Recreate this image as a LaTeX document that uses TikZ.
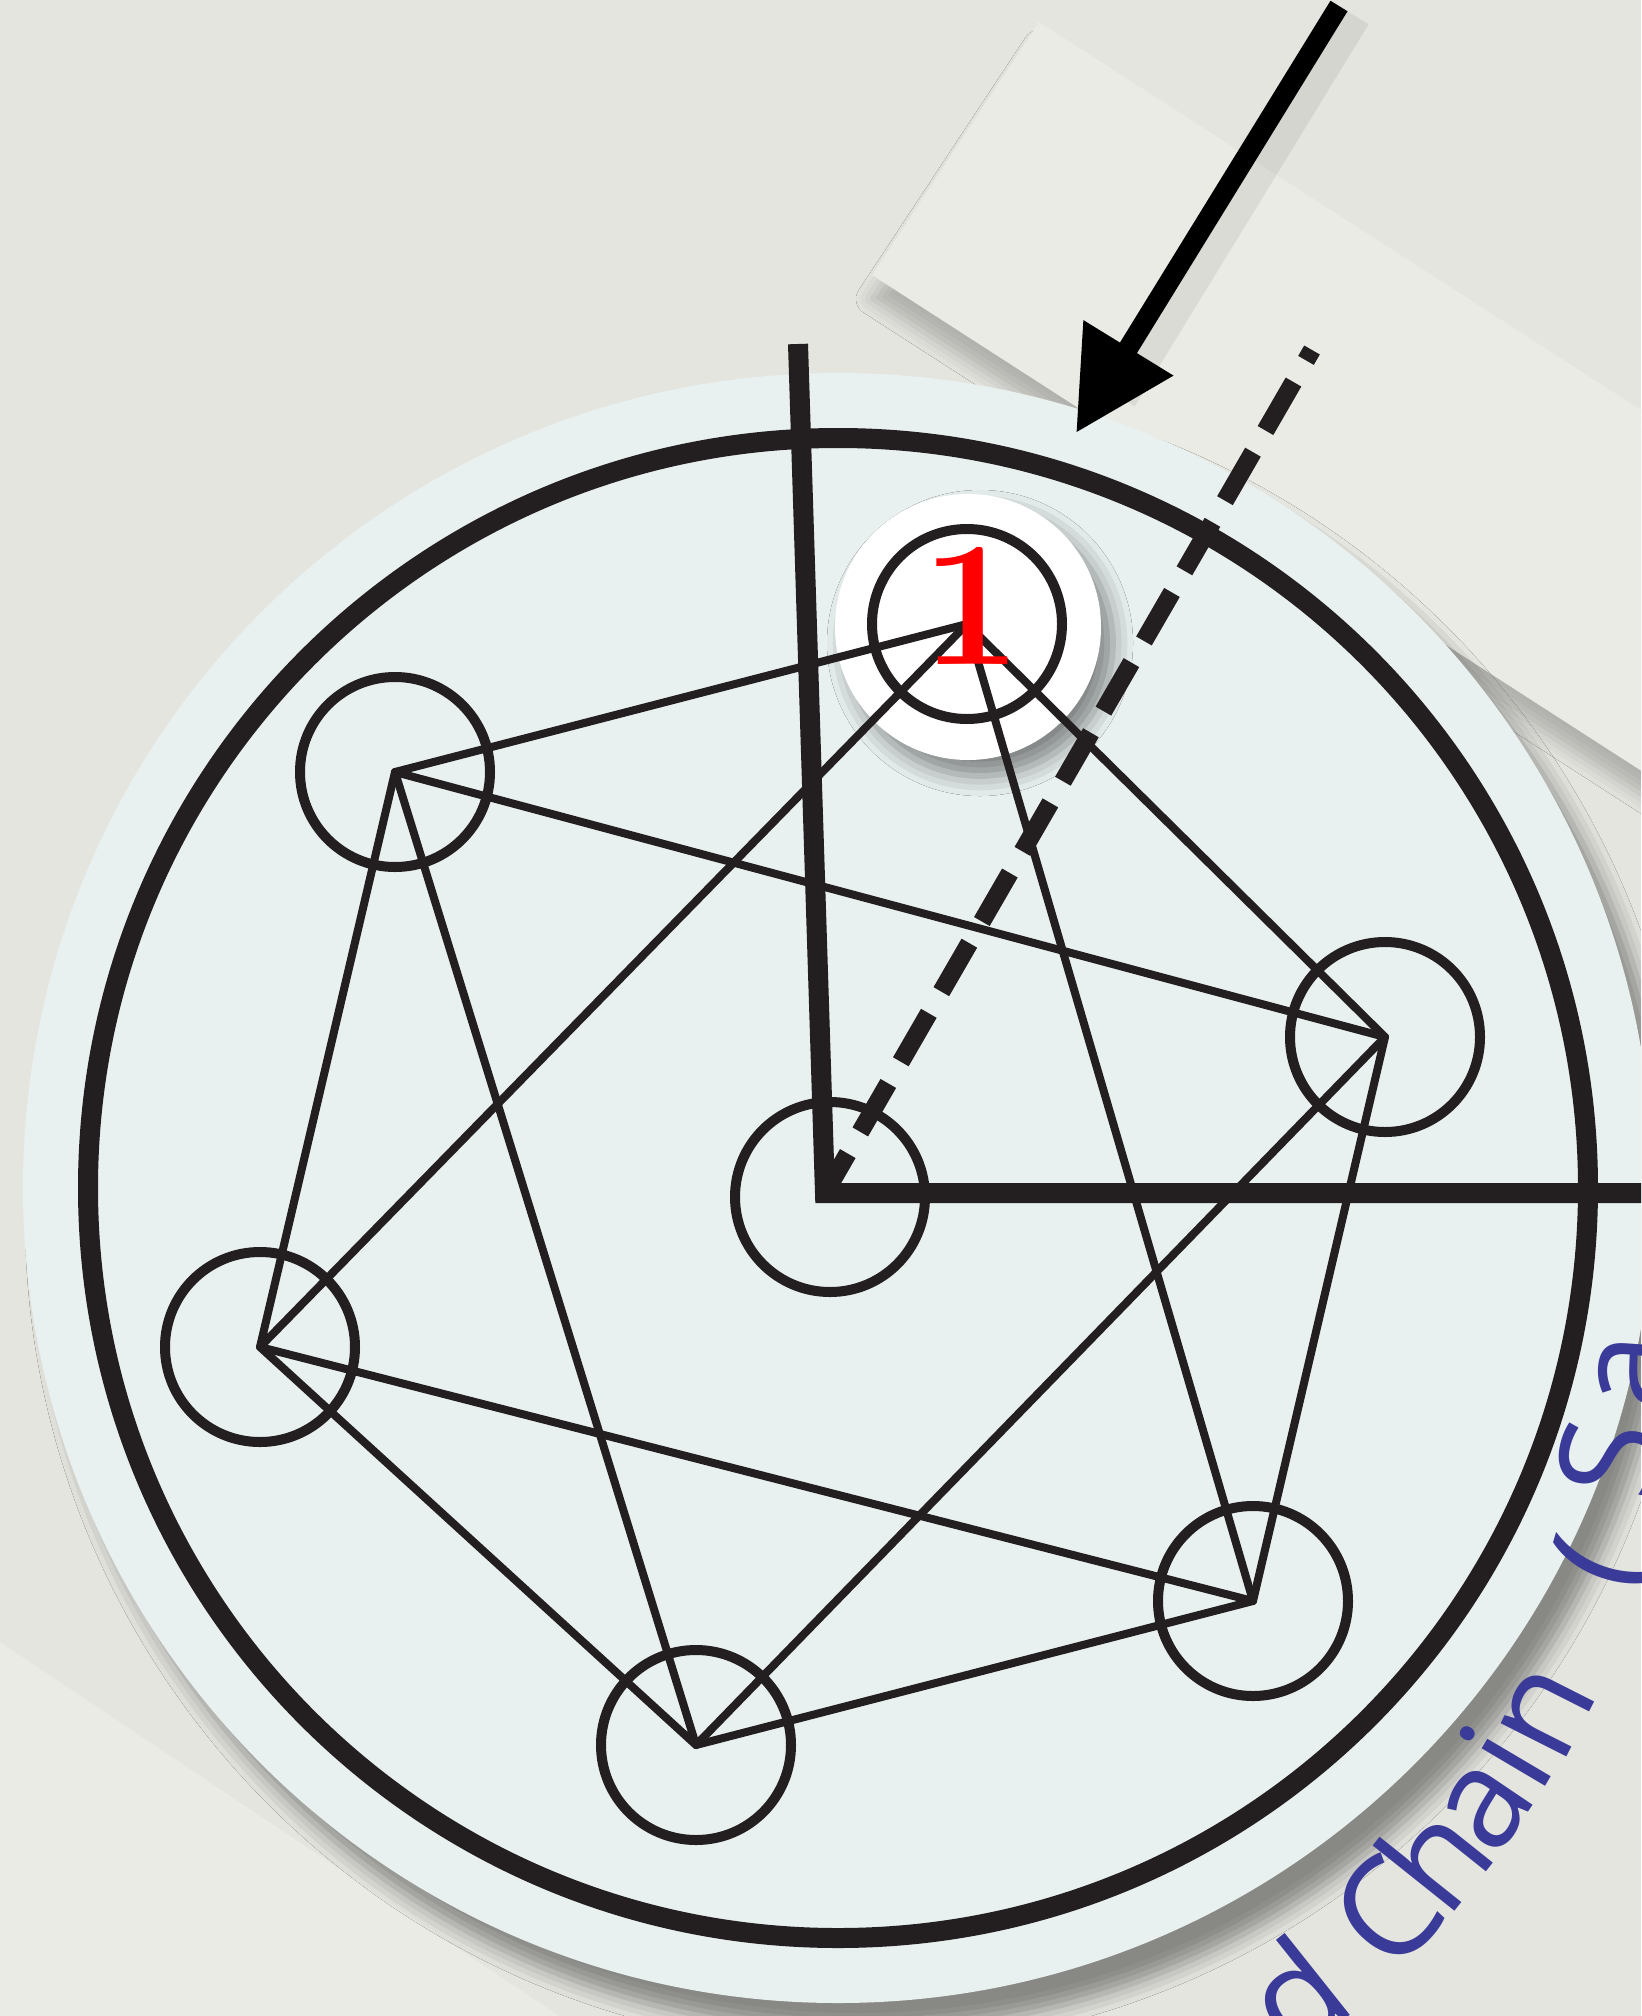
\documentclass[tikz,border=0pt]{standalone}
\usepackage{fontspec}
\newfontfamily\chainfont{Open Sans}
\usetikzlibrary{arrows.meta, positioning, calc, shadows.blur}
\definecolor{paper}{HTML}{E4E5DF}
\definecolor{card}{HTML}{EAEBE5}
\definecolor{disc}{HTML}{E9F0F0}
\definecolor{ink}{HTML}{231F20}
\definecolor{label}{HTML}{3A3A98}

\begin{document}
\begin{tikzpicture}[x=0.25mm, y=-0.25mm,
  site/.style={circle, draw=ink, line width=2.5mm, minimum size=47.5mm, inner sep=0pt},
  bond/.style={draw=ink, line width=2mm, line cap=round},
  axis/.style={draw=ink, line width=5mm},
  glyph/.style={text=label, font=\chainfont\fontsize{98}{98}\selectfont,
                anchor=base, inner sep=0pt}]
\useasboundingbox (0,0) rectangle (1641,2016);
\clip (0,0) rectangle (1641,2016);
\fill[paper] (0,0) rectangle (1641,2016);
% loose cards under the disc
\fill[card, blur shadow={shadow xshift=0mm, shadow yshift=-6mm,
      shadow blur radius=4mm, shadow opacity=22}]
  (1039,22) -- (872,275) -- (1713,817) -- (1880,564) -- cycle;
\fill[card] (0,1642) -- (700,2110) -- (0,2110) -- cycle;
% disc
\coordinate (o) at (838,1188);
\fill[disc, blur shadow={shadow xshift=5mm, shadow yshift=-7mm,
      shadow blur radius=4.5mm, shadow opacity=40}] (o) circle[radius=815];
\draw[ink, line width=5mm] (o) circle[radius=750];
% sites
\node[circle, fill=white, minimum size=66.5mm, inner sep=0pt,
      blur shadow={shadow xshift=3mm, shadow yshift=-4mm,
      shadow blur radius=5mm, shadow opacity=45}]
  (badge) at (968,627) {};
\foreach \p [count=\i] in {(967,624), (1385,1037), (1253,1601), (696,1745), (260,1347), (395,772)}
  \node[site] (v\i) at \p {};
\foreach \i in {1,...,6} {
  \pgfmathtruncatemacro\j{mod(\i,6)+1}
  \pgfmathtruncatemacro\k{mod(\i+1,6)+1}
  \draw[bond] (v\i.center) -- (v\j.center) (v\i.center) -- (v\k.center);
}
\node[site] (hub) at (830,1197) {};
% axes and the tilted one
\coordinate (ytop) at (798,344);
\coordinate (orig) at (825,1193);
\coordinate (xend) at (1700,1193);
\coordinate (dtop) at (1312,350);
\draw[axis] (ytop) -- (orig) -- (xend);
\draw[axis, line width=4.5mm, dash pattern=on 14mm off 6.25mm, dash phase=11mm]
  (dtop) -- (orig);
\node[text=red, font=\bfseries\fontsize{127}{127}\selectfont, inner sep=0pt]
  (one) at (972,606) {1};
% incoming arrow
\coordinate (atail) at (1339,6);
\coordinate (ahead) at (1076,433);
\draw[black!50, opacity=0.15, line width=8mm] ($(atail)+(16,10)$) -- ($(ahead)+(45,-35)$);
\draw[black, line width=5mm, -{Triangle[length=25mm, width=25mm]}] (atail) -- (ahead);
% curved caption
\coordinate (tc) at (750,1310);
\foreach \ch/\a/\r [count=\k] in {d/51.5/926, C/43.4/926, h/38.6/926, a/34.0/926,
    i/30.6/927, n/26.8/930, {(}/16.5/935, S/9.8/921, a/4.0/925}
  \node[glyph, rotate=90-\a] (g\k) at ($(tc)+(\a:\r)$) {\ch};
\end{tikzpicture}
\end{document}
